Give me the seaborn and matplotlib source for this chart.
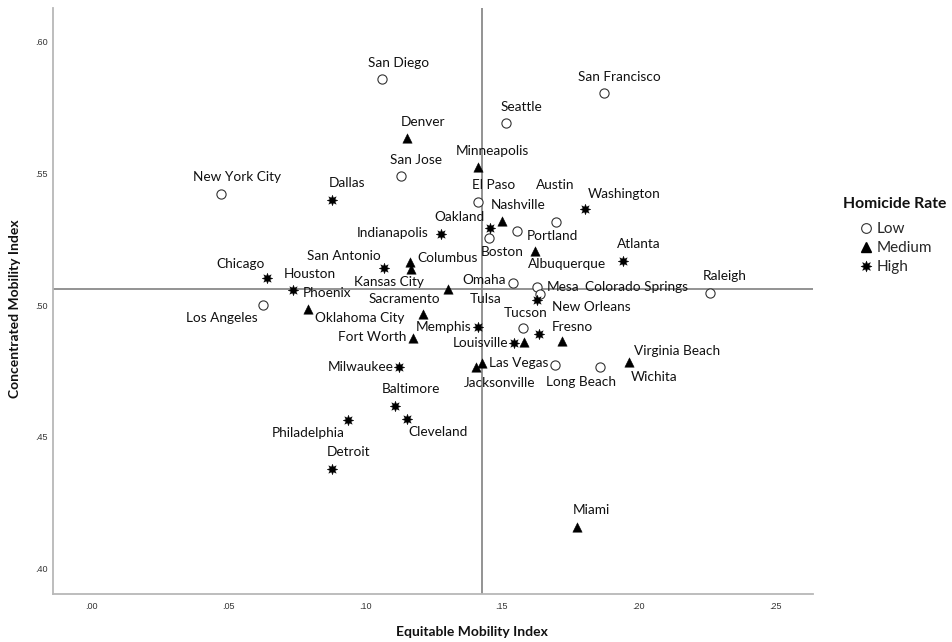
import matplotlib
matplotlib.use("Agg")
import matplotlib.pyplot as plt
from matplotlib.lines import Line2D
from matplotlib.ticker import FuncFormatter
import numpy as np
import pandas as pd
import seaborn as sns

# ---------------- data ----------------
cities = [
    # Low
    "San Diego", "San Francisco", "Seattle", "San Jose", "New York City", "El Paso",
    "Austin", "Portland", "Boston", "Omaha", "Mesa", "Colorado Springs", "Raleigh",
    "Los Angeles", "Tucson", "Long Beach", "Virginia Beach",
    # Medium
    "Denver", "Minneapolis", "Nashville", "Albuquerque", "Columbus", "Kansas City",
    "Sacramento", "Phoenix", "Oklahoma City", "Fort Worth", "Tulsa", "Fresno",
    "Las Vegas", "Jacksonville", "Wichita", "Miami",
    # High
    "Dallas", "Washington", "Oakland", "Indianapolis", "Atlanta", "San Antonio",
    "Chicago", "Houston", "New Orleans", "Memphis", "Louisville", "",
    "Milwaukee", "Baltimore", "Cleveland", "Philadelphia", "Detroit",
]
equitable = [
    0.1063, 0.1873, 0.1515, 0.1130, 0.0474, 0.1412,
    0.1697, 0.1554, 0.1454, 0.1540, 0.1630, 0.1640, 0.2262,
    0.0625, 0.1576, 0.1695, 0.1859,
    0.1154, 0.1412, 0.1500, 0.1621, 0.1164, 0.1168,
    0.1302, 0.0790, 0.1213, 0.1176, 0.1581, 0.1719,
    0.1426, 0.1406, 0.1966, 0.1774,
    0.0878, 0.1804, 0.1457, 0.1278, 0.1944, 0.1070,
    0.0642, 0.0737, 0.1628, 0.1414, 0.1545, 0.1637,
    0.1125, 0.1109, 0.1152, 0.0939, 0.0880,
]
concentrated = [
    0.5858, 0.5804, 0.5690, 0.5490, 0.5421, 0.5392,
    0.5316, 0.5281, 0.5256, 0.5082, 0.5067, 0.5042, 0.5047,
    0.5000, 0.4912, 0.4772, 0.4763,
    0.5633, 0.5525, 0.5319, 0.5206, 0.5164, 0.5136,
    0.5060, 0.4984, 0.4965, 0.4874, 0.4861, 0.4863,
    0.4781, 0.4763, 0.4785, 0.4158,
    0.5399, 0.5363, 0.5293, 0.5270, 0.5167, 0.5139,
    0.5101, 0.5057, 0.5019, 0.4915, 0.4857, 0.4890,
    0.4766, 0.4618, 0.4567, 0.4563, 0.4377,
]
homicide = ["Low"] * 17 + ["Medium"] * 16 + ["High"] * 17
levels = ["Low", "Medium", "High"]

equitable_mean = 0.1426
concentrated_mean = 0.5060

# label placement offsets (pixels, relative to the point)
label_dx = [
    16, 16, 16, 15, 16, 16,
    0, 36, 13, -29, 26, 96, 15,
    -41, 3, 26, 77,
    16, 15, 16, 32, 38, -22,
    -43, 19, -64, -41, -38, 11,
    37, 24, 25, 15,
    15, 39, -31, -48, 16, -40,
    -27, 17, 55, -35, -34, 0,
    -39, 16, 31, -40, 16,
]
label_dy = [
    16, 16, 16, 16, 17, 17,
    37, -5, -14, 3, 0, 7, 17,
    -13, 15, -17, 16,
    16, 16, 16, -13, 4, -13,
    -10, 16, -4, 1, 43, 14,
    0, -16, -15, 17,
    17, 15, 11, 1, 17, 12,
    14, 16, -7, 0, 0, 0,
    0, 17, -13, -13, 17,
]

df = pd.DataFrame({
    "city": cities,
    "Equitable Mobility Index": equitable,
    "Concentrated Mobility Index": concentrated,
    "Homicide Rate": homicide,
})

# ---------------- figure ----------------
sns.set_theme(style="white")
plt.rcParams["font.family"] = ["Lato", "DejaVu Sans"]

fig = plt.figure(figsize=(9.52, 6.42), dpi=100)
ax = fig.add_axes([0.05536, 0.07477, 0.79863, 0.91277])

marker_map = {"Low": "o", "Medium": "^", "High": (8, 1, 0)}
size_map = {"Low": 44, "Medium": 46, "High": 58}

for g in levels:
    sub = df[df["Homicide Rate"] == g]
    sns.scatterplot(
        data=sub, x="Equitable Mobility Index", y="Concentrated Mobility Index",
        marker=marker_map[g], s=size_map[g], color="black",
        edgecolor="black", linewidth=0.8 if g == "Low" else 0.3,
        legend=False, ax=ax, zorder=3,
    )
    if g == "Low":
        ax.collections[-1].set_facecolor("white")
        ax.collections[-1].set_edgecolor("#333333")

ax.axvline(equitable_mean, color="#808080", lw=1.2, zorder=2)
ax.axhline(concentrated_mean, color="#808080", lw=1.2, zorder=2)

for name, x, y, dx, dy in zip(cities, equitable, concentrated, label_dx, label_dy):
    if name:
        ax.annotate(name, (x, y), xytext=(dx, dy), textcoords="offset pixels",
                    ha="center", va="center", fontsize=9.8, color="#111111",
                    zorder=4)

ax.set_xlim(-0.01426, 0.26383)
ax.set_ylim(0.39028, 0.61276)
fmt = FuncFormatter(lambda v, p: f"{v:.2f}".replace("0.", ".", 1) if v >= 0 else f"{v:.2f}")
ax.xaxis.set_major_formatter(fmt)
ax.yaxis.set_major_formatter(fmt)
ax.set_xticks([0.0, 0.05, 0.10, 0.15, 0.20, 0.25])
ax.set_yticks([0.40, 0.45, 0.50, 0.55, 0.60])
ax.tick_params(axis="both", length=0, labelsize=6.5, labelcolor="#333333")
ax.tick_params(axis="x", pad=6)
ax.tick_params(axis="y", pad=3.5)
for lab in ax.get_xticklabels() + ax.get_yticklabels():
    lab.set_fontfamily(["Liberation Sans", "DejaVu Sans"])

for side in ["top", "right"]:
    ax.spines[side].set_visible(False)
for side in ["left", "bottom"]:
    ax.spines[side].set_color("#b8b8b8")
    ax.spines[side].set_linewidth(1.3)

ax.set_xlabel("Equitable Mobility Index", fontsize=10, fontweight="bold", color="#111111")
ax.set_ylabel("Concentrated Mobility Index", fontsize=10, fontweight="bold", color="#111111")
ax.xaxis.set_label_coords(0.5515, -0.0648)
ax.xaxis.label.set_va("center")
ax.yaxis.set_label_coords(-0.0496, 0.4863)
ax.yaxis.label.set_va("center")

# legend
fig.text(0.8855, 0.6822, "Homicide Rate", fontsize=11.3, fontweight="bold",
         ha="left", va="center", color="#111111")
handles = [
    Line2D([], [], ls="", marker="o", ms=7, mfc="white", mec="#333333", mew=0.8),
    Line2D([], [], ls="", marker="^", ms=7, mfc="black", mec="black"),
    Line2D([], [], ls="", marker=(8, 1, 0), ms=8, mfc="black", mec="black", mew=0.3),
]
leg = ax.legend(handles, levels, loc="upper left",
                bbox_to_anchor=(0.9029, 0.6540), bbox_transform=fig.transFigure,
                frameon=False, borderpad=0, borderaxespad=0, handlelength=0.8,
                handletextpad=0.3, labelspacing=0.32, fontsize=11)

fig.savefig("out.png", dpi=100)
